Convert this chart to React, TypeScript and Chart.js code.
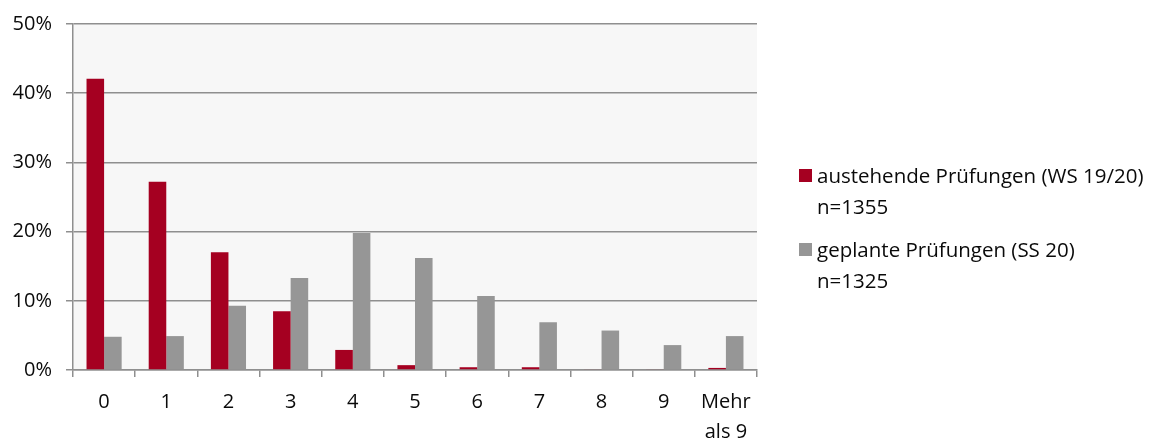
import React, { useEffect, useRef } from "react";
import { Chart, registerables } from "chart.js";
Chart.register(...registerables);

const categories: (string | string[])[] = ["0", "1", "2", "3", "4", "5", "6", "7", "8", "9", ["Mehr", "als 9"]];
const ausstehend = [42.1, 27.2, 17.0, 8.5, 2.9, 0.7, 0.4, 0.4, 0.1, 0.1, 0.3];
const geplant = [4.8, 4.9, 9.3, 13.3, 19.8, 16.2, 10.7, 6.9, 5.7, 3.6, 4.9];
const yMax = 50;
const yStep = 10;
const seriesLabels = ["austehende Prüfungen (WS 19/20)", "geplante Prüfungen (SS 20)"];
const seriesNotes = ["n=1355", "n=1325"];
const seriesColors = ["#A50021", "#969696"];

const FONT = "'Open Sans', sans-serif";
const GRID = "#8f8f8f";

const bgPlugin = {
  id: "plotBg",
  beforeDraw(chart: any) {
    const { ctx, chartArea } = chart;
    ctx.save();
    ctx.fillStyle = "#F7F7F7";
    ctx.fillRect(chartArea.left, chartArea.top, chartArea.right - chartArea.left, chartArea.bottom - chartArea.top);
    ctx.restore();
  },
};

export default function App() {
  const ref = useRef<HTMLCanvasElement>(null);
  useEffect(() => {
    if (!ref.current) return;
    const chart = new Chart(ref.current, {
      type: "bar",
      data: {
        labels: categories as any,
        datasets: [
          { label: seriesLabels[0], data: ausstehend, backgroundColor: seriesColors[0], barPercentage: 1, categoryPercentage: 0.565 },
          { label: seriesLabels[1], data: geplant, backgroundColor: seriesColors[1], barPercentage: 1, categoryPercentage: 0.565 },
        ],
      },
      options: {
        animation: false,
        responsive: false,
        maintainAspectRatio: false,
        layout: { padding: { left: 0, right: 404, top: 23, bottom: 0 } },
        plugins: { legend: { display: false }, tooltip: { enabled: false } },
        scales: {
          x: {
            grid: { offset: true, drawOnChartArea: false, drawTicks: true, tickLength: 7, color: GRID, lineWidth: 1.5 },
            border: { color: GRID, width: 1.5 },
            ticks: { color: "#0a0a0a", font: { family: FONT, size: 20, lineHeight: 1.5 }, padding: 10, maxRotation: 0, autoSkip: false },
            afterFit(scale: any) { scale.height = 70; },
          },
          y: {
            min: 0,
            max: yMax,
            ticks: { stepSize: yStep, color: "#0a0a0a", font: { family: FONT, size: 20, lineHeight: 1 }, padding: 14, callback: (v: any) => v + "%" },
            grid: { tickLength: 7, color: GRID, lineWidth: 1.5 },
            border: { color: GRID, width: 1.5 },
            afterFit(scale: any) { scale.width = 73; },
          },
        },
      },
      plugins: [bgPlugin],
    });
    return () => chart.destroy();
  }, []);

  const item = (i: number, top: number) => (
    <div key={i} style={{ position: "absolute", left: 799, top, fontFamily: FONT, fontSize: 20.5, lineHeight: "31px", color: "#0a0a0a" }}>
      <div style={{ display: "flex", alignItems: "center" }}>
        <span style={{ display: "inline-block", width: 13, height: 13, background: seriesColors[i], marginRight: 5 }} />
        <span style={{ whiteSpace: "nowrap" }}>{seriesLabels[i]}</span>
      </div>
      <div style={{ paddingLeft: 18 }}>{seriesNotes[i]}</div>
    </div>
  );

  return (
    <div style={{ position: "fixed", left: 0, top: 0, width: 1161, height: 440, background: "#fff", overflow: "hidden" }}>
      <canvas ref={ref} width={1161} height={440} style={{ display: "block" }} />
      {item(0, 160)}
      {item(1, 234)}
    </div>
  );
}
